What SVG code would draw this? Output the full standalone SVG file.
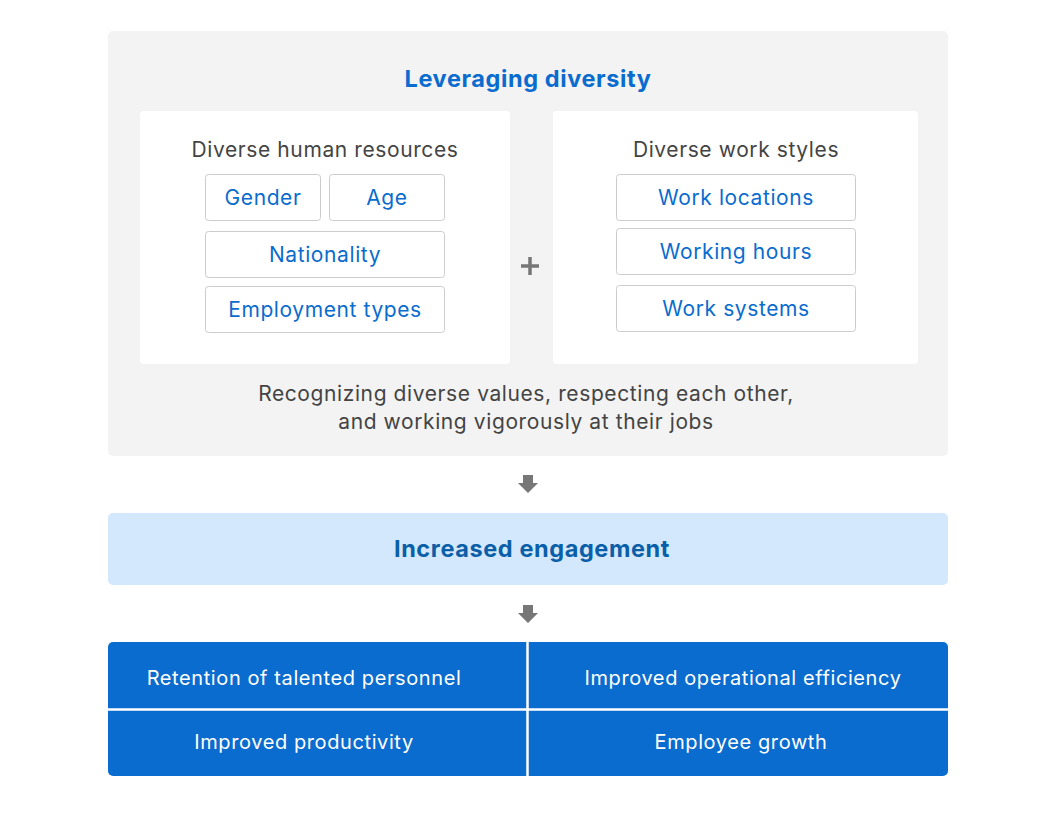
<svg xmlns="http://www.w3.org/2000/svg" width="1056" height="815" viewBox="0 0 1056 815">
<style>
text{font-family:Inter,"Noto Sans",sans-serif;text-anchor:middle;letter-spacing:0.6px}
.h{font-size:23.5px;font-weight:700;fill:#0a6cce}
.g{font-size:21px;fill:#444}
.b{font-size:21px;fill:#0a6cce}
.w{font-size:20px;fill:#fff}
.tag{fill:#fff;stroke:#ccc;stroke-width:1}
</style>
<defs><path id="arr" d="M-5,0 H5 V8 H10 L0,18 L-10,8 H-5 Z" fill="#777"/></defs>
<rect width="1056" height="815" fill="#fff"/>
<g id="diversity">
<rect x="108" y="31" width="840" height="425" rx="5" fill="#f3f3f3"/>
<text class="h" x="528" y="87">Leveraging diversity</text>
<text class="g" x="526" y="401">Recognizing diverse values, respecting each other,</text>
<text class="g" x="526" y="429">and working vigorously at their jobs</text>
</g>
<g id="human">
<rect x="140" y="111" width="370" height="253" rx="4" fill="#fff"/>
<text class="g" x="325" y="157">Diverse human resources</text>
<rect class="tag" x="205.5" y="174.5" width="115" height="46" rx="3"/><text class="b" x="263" y="205">Gender</text>
<rect class="tag" x="329.5" y="174.5" width="115" height="46" rx="3"/><text class="b" x="387" y="205">Age</text>
<rect class="tag" x="205.5" y="231.5" width="239" height="46" rx="3"/><text class="b" x="325" y="262">Nationality</text>
<rect class="tag" x="205.5" y="286.5" width="239" height="46" rx="3"/><text class="b" x="325" y="317">Employment types</text>
</g>
<g id="plus"><path d="M521,266 H539 M530,257 V275" stroke="#777" stroke-width="3.5"/></g>
<g id="work">
<rect x="553" y="111" width="365" height="253" rx="4" fill="#fff"/>
<text class="g" x="736" y="157">Diverse work styles</text>
<rect class="tag" x="616.5" y="174.5" width="239" height="46" rx="3"/><text class="b" x="736" y="205">Work locations</text>
<rect class="tag" x="616.5" y="228.5" width="239" height="46" rx="3"/><text class="b" x="736" y="259">Working hours</text>
<rect class="tag" x="616.5" y="285.5" width="239" height="46" rx="3"/><text class="b" x="736" y="316">Work systems</text>
</g>
<g id="connectors">
<use href="#arr" x="528" y="475"/>
<use href="#arr" x="528" y="605"/>
</g>
<g id="engagement">
<rect x="108" y="513" width="840" height="72" rx="5" fill="#d3e8fc"/>
<text x="532" y="557" style="font-size:23.5px;font-weight:700;fill:#0a5fa8">Increased engagement</text>
</g>
<g id="outcomes">
<rect x="108" y="642" width="840" height="134" rx="5" fill="#0a6cce"/>
<path d="M108,709.5 H948 M527.5,642 V776" stroke="#fff" stroke-width="2.5"/>
<text class="w" x="304" y="685">Retention of talented personnel</text>
<text class="w" x="743" y="685">Improved operational efficiency</text>
<text class="w" x="304" y="749">Improved productivity</text>
<text class="w" x="741" y="749">Employee growth</text>
</g>
</svg>
